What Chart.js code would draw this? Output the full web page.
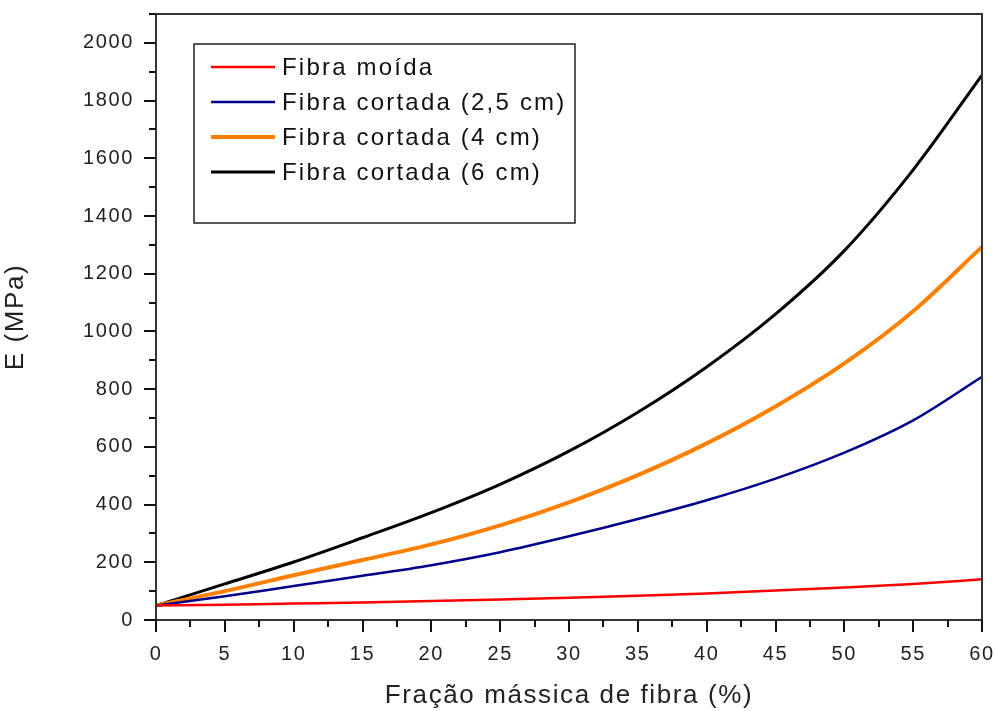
<!DOCTYPE html>
<html><head><meta charset="utf-8">
<script src="https://cdn.jsdelivr.net/npm/chart.js@4/dist/chart.umd.min.js"></script>
<style>html,body{margin:0;padding:0;background:#fff}#w{width:995px;height:711px}</style>
</head><body><div id="w"><canvas id="c"></canvas></div>
<script>
const xValues = [0, 5, 10, 15, 20, 25, 30, 35, 40, 45, 50, 55, 60];
const fibraMoida = [50, 53, 57, 61, 66, 71, 77, 84, 92, 102, 113, 125, 141];
const fibraCortada25 = [50, 82, 118, 153, 190, 235, 290, 350, 415, 490, 580, 692, 843];
const fibraCortada4 = [50, 100, 155, 208, 262, 328, 408, 502, 612, 740, 889, 1070, 1293];
const fibraCortada6 = [50, 125, 201, 285, 372, 470, 585, 720, 877, 1060, 1280, 1560, 1888];
const seriesLabels = ['Fibra moída', 'Fibra cortada (2,5 cm)', 'Fibra cortada (4 cm)', 'Fibra cortada (6 cm)'];
const yTickLabels = [0, 200, 400, 600, 800, 1000, 1200, 1400, 1600, 1800, 2000];
const xTickLabels = [0, 5, 10, 15, 20, 25, 30, 35, 40, 45, 50, 55, 60];

const pts = arr => arr.map((v, i) => ({x: xValues[i], y: v}));
const FONT = '"Liberation Sans", Arial, sans-serif';

const spacingPlugin = {
  id: 'spacing',
  beforeDraw(chart) { chart.ctx.letterSpacing = '1.6px'; }
};

const framePlugin = {
  id: 'frame',
  afterDraw(chart) {
    const {ctx, chartArea: a, scales} = chart;
    ctx.save();
    ctx.strokeStyle = '#333';
    ctx.lineWidth = 2;
    ctx.strokeRect(a.left, a.top, a.right - a.left, a.bottom - a.top);
    ctx.strokeStyle = '#111';
    ctx.beginPath();
    for (let v = 0; v <= 2100; v += 100) {
      const y = Math.round(scales.y.getPixelForValue(v));
      const len = (v % 200 === 0) ? 12 : 7;
      ctx.moveTo(a.left - len, y); ctx.lineTo(a.left, y);
    }
    for (let v = 0; v <= 60; v += 2.5) {
      const x = Math.round(scales.x.getPixelForValue(v));
      const len = (v % 5 === 0) ? 12 : 7;
      ctx.moveTo(x, a.bottom); ctx.lineTo(x, a.bottom + len);
    }
    ctx.stroke();
    // legend
    const bx = 194, by = 44, bw = 381, bh = 179;
    ctx.fillStyle = '#fff';
    ctx.fillRect(bx, by, bw, bh);
    ctx.lineWidth = 1.5;
    ctx.strokeStyle = '#222';
    ctx.strokeRect(bx, by, bw, bh);
    ctx.font = '24px ' + FONT;
    ctx.letterSpacing = '2.2px';
    ctx.textBaseline = 'middle';
    chart.data.datasets.forEach((ds, i) => {
      const yy = 67 + i * 35;
      ctx.strokeStyle = ds.borderColor;
      ctx.lineWidth = ds.borderWidth;
      ctx.beginPath(); ctx.moveTo(211, yy); ctx.lineTo(275, yy); ctx.stroke();
      ctx.fillStyle = '#111';
      ctx.fillText(ds.label, 282, yy + 1);
    });
    ctx.restore();
  }
};

const zeroPad = s => { s.paddingLeft = 0; s.paddingRight = 0; s.paddingTop = 0; s.paddingBottom = 0; };

new Chart(document.getElementById('c'), {
  type: 'line',
  data: {
    datasets: [
      {label: seriesLabels[0], data: pts(fibraMoida), borderColor: '#ff0000', borderWidth: 2.5},
      {label: seriesLabels[1], data: pts(fibraCortada25), borderColor: '#00008b', borderWidth: 2.5},
      {label: seriesLabels[2], data: pts(fibraCortada4), borderColor: '#ff8000', borderWidth: 4},
      {label: seriesLabels[3], data: pts(fibraCortada6), borderColor: '#000000', borderWidth: 3}
    ].map(d => Object.assign(d, {fill: false, pointRadius: 0, cubicInterpolationMode: 'monotone'}))
  },
  options: {
    responsive: true, maintainAspectRatio: false, animation: false,
    layout: {padding: {top: 14, right: 13, left: 0, bottom: 0}},
    plugins: {legend: {display: false}, tooltip: {enabled: false}},
    scales: {
      x: {
        type: 'linear', min: 0, max: 60,
        afterBuildTicks: s => { s.ticks = xTickLabels.map(v => ({value: v})); },
        afterFit: s => { s.height = 91; zeroPad(s); },
        grid: {display: false, drawTicks: false},
        border: {display: false},
        ticks: {color: '#222', font: {family: FONT, size: 20}, padding: 22, maxRotation: 0, callback: v => String(v)},
        title: {display: true, text: 'Fração mássica de fibra (%)', color: '#222', font: {family: FONT, size: 26}, padding: {top: 6, bottom: 0}}
      },
      y: {
        type: 'linear', min: 0, max: 2100,
        afterBuildTicks: s => { s.ticks = yTickLabels.map(v => ({value: v})); },
        afterFit: s => { s.width = 156; zeroPad(s); },
        grid: {display: false, drawTicks: false},
        border: {display: false},
        ticks: {color: '#222', font: {family: FONT, size: 20}, padding: 22, callback: v => String(v)},
        title: {display: true, text: 'E (MPa)', color: '#222', font: {family: FONT, size: 26}, padding: {top: 0, bottom: 0}}
      }
    }
  },
  plugins: [spacingPlugin, framePlugin]
});
</script></body></html>
